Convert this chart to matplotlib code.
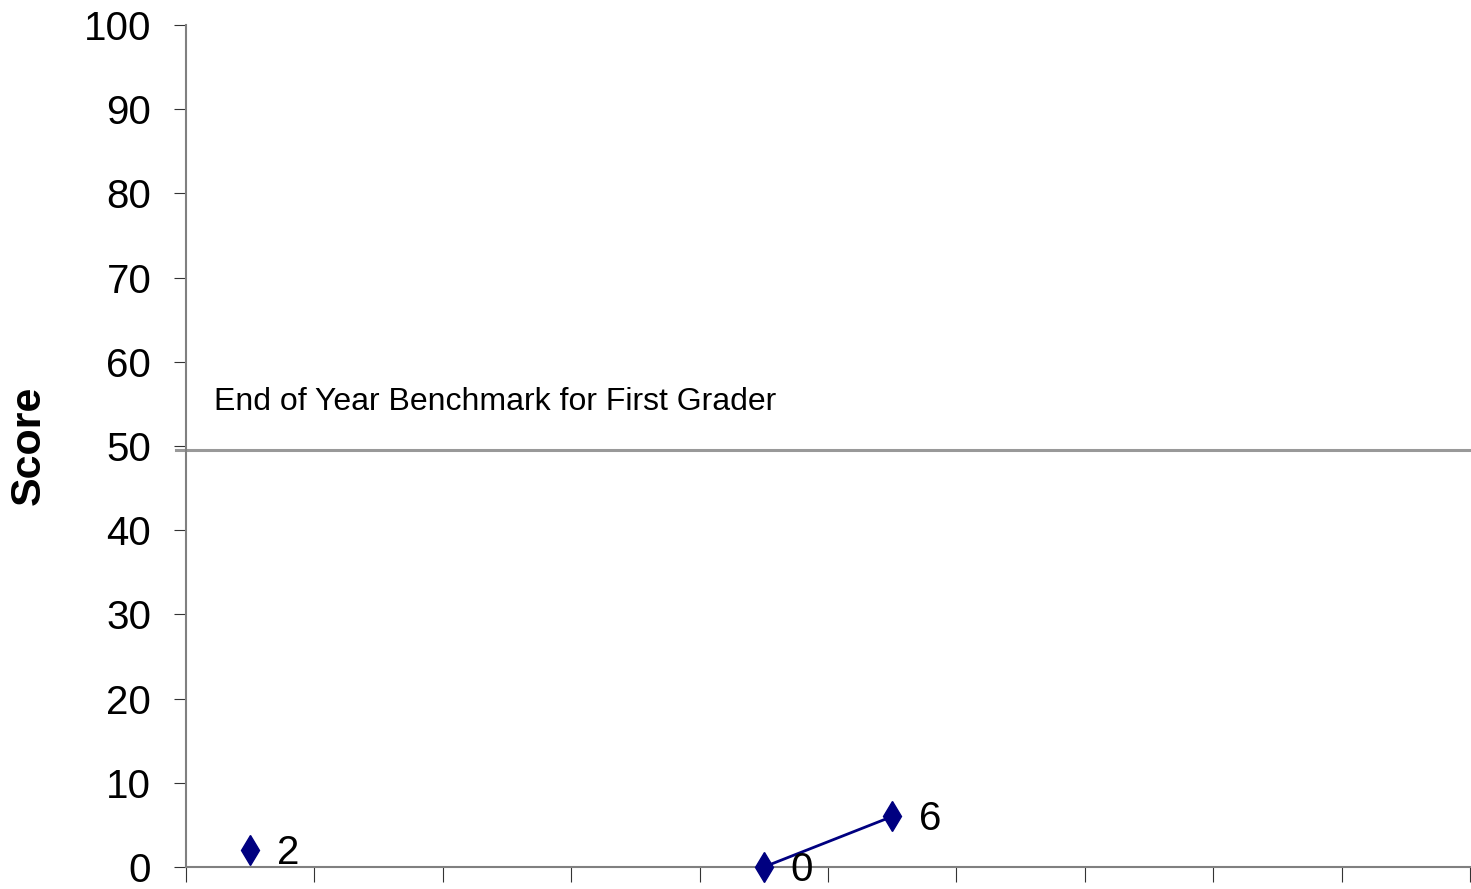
import numpy as np
import matplotlib
matplotlib.use("Agg")
import matplotlib.pyplot as plt

# datos
n_cats = 10
scores = [2, np.nan, np.nan, np.nan, 0, 6, np.nan, np.nan, np.nan, np.nan]
benchmark = 49.5
benchmark_label = "End of Year Benchmark for First Grader"

plt.rcParams['font.family'] = ['Liberation Sans', 'DejaVu Sans']

fig = plt.figure(figsize=(14.71, 8.89), dpi=100)
ax = fig.add_axes([186 / 1471, 1 - 867 / 889, (1470 - 186) / 1471, (867 - 25) / 889])

x = np.arange(n_cats) + 0.5
ax.plot(x, scores, color='#000080', lw=2, marker='d', markersize=15,
        clip_on=False, zorder=3)
for xi, v in zip(x, scores):
    if not np.isnan(v):
        ax.annotate(str(int(v)), (xi, v), xytext=(19, -2), textcoords='offset points',
                    va='center', ha='left', fontsize=29, annotation_clip=False)

# linea de referencia
ax.axhline(benchmark, xmin=-0.008, xmax=1, color='#999999', lw=2.2, clip_on=False)
ax.text(0.22, 55.2, benchmark_label, fontsize=23, va='center', ha='left')

ax.set_xlim(0, n_cats)
ax.set_ylim(0, 100)
ax.set_yticks(range(0, 101, 10))
ax.set_xticks(range(0, n_cats + 1))
ax.set_xticklabels([])
ax.tick_params(axis='y', labelsize=29, length=9, pad=16, color='#333333')
ax.tick_params(axis='x', length=11, direction='out', color='#333333')
for s in ['top', 'right']:
    ax.spines[s].set_visible(False)
for s in ['left', 'bottom']:
    ax.spines[s].set_color('#808080')
    ax.spines[s].set_linewidth(1.5)

fig.text(29 / 1471, 1 - 445 / 889, 'Score', rotation=90, fontsize=31,
         fontweight='bold', ha='center', va='center')

fig.savefig('out.png', dpi=100)
